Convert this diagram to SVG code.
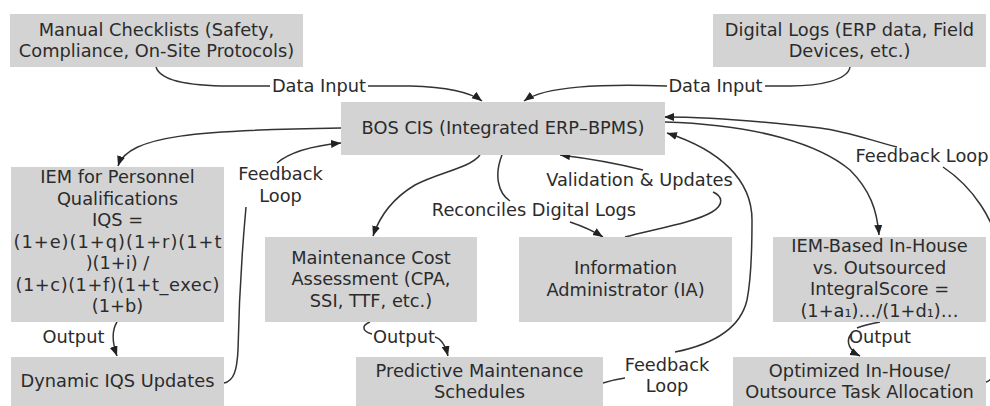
<svg xmlns="http://www.w3.org/2000/svg" width="990" height="406" viewBox="0 0 990 406">
<style>
.box{fill:#d3d3d3;stroke:none}
text{font-family:"DejaVu Sans","Liberation Sans",sans-serif;font-size:17.8px;fill:#2b2b2b;text-anchor:middle}
.e{fill:none;stroke:#333;stroke-width:1.5}
.a{marker-end:url(#arr)}
</style>
<defs>
<marker id="arr" markerUnits="userSpaceOnUse" markerWidth="11" markerHeight="9" refX="10" refY="4" orient="auto">
<path d="M0,0 L10,4 L0,8 z" fill="#222"/>
</marker>
</defs>
<rect width="990" height="406" fill="#fff"/>
<g id="connectors">
<path class="e" d="M156,67 C160,80 185,86 230,86 L270,86"/>
<path class="e a" d="M368,86 L410,86 C445,87 470,92 482,101"/>
<path class="e" d="M850,67 C848,80 820,86 790,86 L765,86"/>
<path class="e a" d="M667,86 C600,84 545,86 524,101"/>
<path class="e a" d="M341,128 C200,130 128,135 118,166"/>
<path class="e" d="M224,383 C234,381 237,370 238,350 C239,300 243,240 246,207"/>
<path class="e a" d="M277,163 C290,152 310,146 341,143"/>
<path class="e a" d="M480,155 C470,168 440,172 415,185 C395,197 380,215 373,236"/>
<path class="e" d="M502,155 C494,175 498,193 510,201"/>
<path class="e a" d="M570,222 C585,227 595,232 603,237"/>
<path class="e" d="M625,237 C660,228 695,222 712,212 C725,204 722,196 713,192"/>
<path class="e a" d="M643,170 C615,163 585,158 560,155"/>
<path class="e" d="M603,383 C612,380 618,379 625,378"/>
<path class="e a" d="M675,352 C710,345 740,330 747,300 C752,275 752,240 752,220 C752,180 720,150 667,133"/>
<path class="e a" d="M665,122 C760,125 820,145 850,170 C870,190 877,210 879,235"/>
<path class="e" d="M986,382 C995,380 1000,360 1000,330 L1000,260 C998,220 970,185 943,167"/>
<path class="e a" d="M897,147 C870,140 845,131 820,128 C760,121 710,117 664,117"/>
<path class="e" d="M880,322 C870,324 862,326 857,328"/>
<path class="e a" d="M851,334 C845,342 850,351 860,356"/>
<path class="e" d="M370,322 C362,325 361,331 372,334"/>
<path class="e a" d="M435,337 C442,339 446,348 448,356"/>
<path class="e a" d="M117,322 C112,330 112,342 117,356"/>
</g>
<g id="edge-labels">
<text x="319" y="92">Data Input</text>
<text x="715.5" y="92">Data Input</text>
<text x="280.5" y="180">Feedback</text>
<text x="280.5" y="202">Loop</text>
<text x="534" y="216">Reconciles Digital Logs</text>
<text x="639.5" y="186">Validation &amp; Updates</text>
<text x="922" y="162">Feedback Loop</text>
<text x="667" y="371">Feedback</text>
<text x="667" y="392">Loop</text>
<text x="73.5" y="343">Output</text>
<text x="404" y="343">Output</text>
<text x="880" y="343">Output</text>
</g>
<g id="manual">
<rect class="box" x="10" y="14" width="293" height="53"/>
<text x="156.5" y="35.5">Manual Checklists (Safety,</text>
<text x="156.5" y="57">Compliance, On-Site Protocols)</text>
</g>
<g id="digital">
<rect class="box" x="713" y="14" width="273" height="53"/>
<text x="849.5" y="35.5">Digital Logs (ERP data, Field</text>
<text x="849.5" y="57">Devices, etc.)</text>
</g>
<g id="bos">
<rect class="box" x="341" y="102" width="324" height="53"/>
<text x="503" y="134">BOS CIS (Integrated ERP–BPMS)</text>
</g>
<g id="iem-personnel">
<rect class="box" x="11" y="167" width="213" height="155"/>
<text x="117.5" y="183">IEM for Personnel</text>
<text x="117.5" y="204.5">Qualifications</text>
<text x="117.5" y="226">IQS =</text>
<text x="117.5" y="247.5" textLength="208" lengthAdjust="spacing">(1+e)(1+q)(1+r)(1+t</text>
<text x="117.5" y="269">)(1+i) /</text>
<text x="117.5" y="290.5" textLength="204" lengthAdjust="spacing">(1+c)(1+f)(1+t_exec)</text>
<text x="117.5" y="312">(1+b)</text>
</g>
<g id="maintenance-cost">
<rect class="box" x="265" y="237" width="212" height="85"/>
<text x="371" y="263.5">Maintenance Cost</text>
<text x="371" y="285">Assessment (CPA,</text>
<text x="371" y="306.5">SSI, TTF, etc.)</text>
</g>
<g id="info-admin">
<rect class="box" x="519" y="237" width="213" height="85"/>
<text x="625.5" y="274">Information</text>
<text x="625.5" y="295.5">Administrator (IA)</text>
</g>
<g id="iem-outsource">
<rect class="box" x="773" y="237" width="213" height="85"/>
<text x="879.5" y="252">IEM-Based In-House</text>
<text x="879.5" y="273.5">vs. Outsourced</text>
<text x="879.5" y="295">IntegralScore =</text>
<text x="879.5" y="316.5">(1+a₁)…/(1+d₁)…</text>
</g>
<g id="dynamic-iqs">
<rect class="box" x="11" y="357" width="213" height="50"/>
<text x="117.5" y="387">Dynamic IQS Updates</text>
</g>
<g id="predictive">
<rect class="box" x="356" y="357" width="247" height="50"/>
<text x="479.5" y="377">Predictive Maintenance</text>
<text x="479.5" y="398">Schedules</text>
</g>
<g id="optimized">
<rect class="box" x="733" y="357" width="253" height="50"/>
<text x="859.5" y="377">Optimized In-House/</text>
<text x="859.5" y="398">Outsource Task Allocation</text>
</g>
</svg>
